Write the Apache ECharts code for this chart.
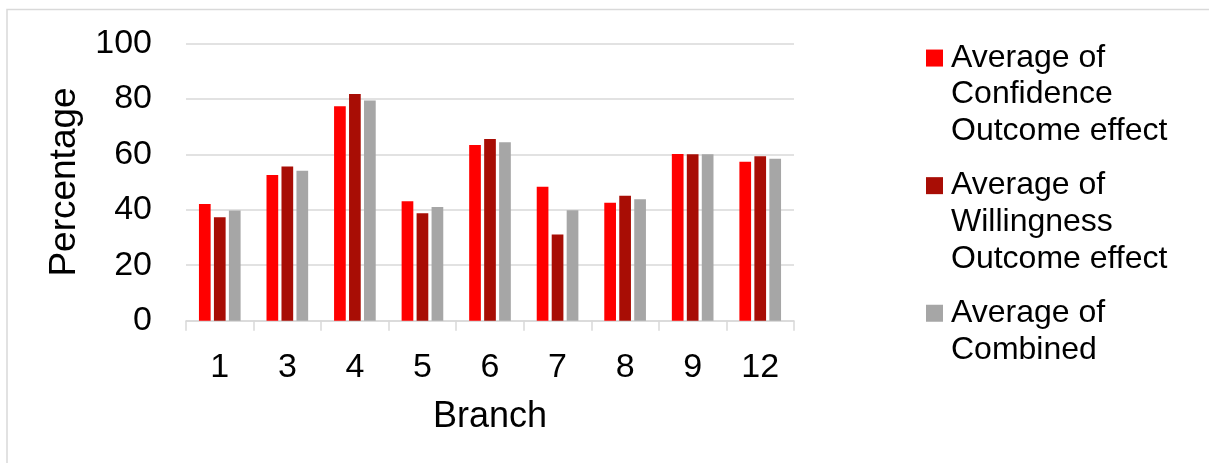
<!DOCTYPE html>
<html>
<head>
<meta charset="utf-8">
<title>Outcome effect by branch</title>
<script src="https://cdn.jsdelivr.net/npm/echarts@6/dist/echarts.min.js"></script>
<style>
  html, body { margin: 0; padding: 0; background: #ffffff; }
  #chart { width: 1209px; height: 463px; }
</style>
</head>
<body>
<div id="chart"></div>
<script>
// Branch categories along the x axis
const branches = ['1', '3', '4', '5', '6', '7', '8', '9', '12'];

// Average outcome effect per branch (percent)
const confidence  = [42.1, 52.5, 77.3, 43.1, 63.3, 48.3, 42.5, 60.1, 57.3];
const willingness = [37.3, 55.6, 81.7, 38.7, 65.5, 31.1, 45.0, 60.0, 59.3];
const combined    = [39.7, 54.1, 79.4, 41.0, 64.3, 39.8, 43.8, 60.0, 58.4];

// Series names as shown in the legend
const seriesNames = [
  'Average of\nConfidence\nOutcome effect',
  'Average of\nWillingness\nOutcome effect',
  'Average of\nCombined\n '
];

// Percentage axis
const yMin = 0, yMax = 100, yStep = 20;

const FONT = '"Liberation Sans", Arial, sans-serif';
const GRID = '#d9d9d9';
const colors = ['#ff0000', '#a80d05', '#a6a6a6'];

// Legend marker: a small square sitting on the first text line of a three-line item
const legendIcon = 'path://M0,0M20,110M0,10h17v17h-17z';

const chart = echarts.init(document.getElementById('chart'), null, { renderer: 'canvas' });

function barSeries(name, data, color) {
  return {
    name: name,
    type: 'bar',
    data: data,
    barWidth: 11.7,
    barGap: '28%',
    itemStyle: { color: color },
    emphasis: { disabled: true }
  };
}

chart.setOption({
  animation: false,
  backgroundColor: '#ffffff',
  textStyle: { fontFamily: FONT },
  graphic: [{
    type: 'rect',
    shape: { x: 7, y: 9.5, width: 1215, height: 470 },
    style: { fill: 'none', stroke: GRID, lineWidth: 1.5 },
    silent: true
  }],
  grid: { left: 186, right: 415, top: 43.3, bottom: 142.3, containLabel: false },
  legend: {
    orient: 'vertical',
    left: 926,
    top: 39.5,
    padding: 0,
    itemGap: 17.5,
    itemWidth: 20,
    itemHeight: 110,
    icon: legendIcon,
    selectedMode: false,
    textStyle: { fontFamily: FONT, fontSize: 32, lineHeight: 36.7, color: '#000000' },
    data: seriesNames
  },
  xAxis: {
    type: 'category',
    data: branches,
    name: 'Branch',
    nameLocation: 'middle',
    nameGap: 78,
    nameTextStyle: { fontFamily: FONT, fontSize: 36, color: '#000000' },
    axisLine: { lineStyle: { color: GRID, width: 1.5 } },
    axisTick: { show: true, length: 10, lineStyle: { color: GRID, width: 1.5 } },
    axisLabel: { fontFamily: FONT, fontSize: 34, color: '#000000', margin: 30 }
  },
  yAxis: {
    type: 'value',
    min: yMin,
    max: yMax,
    interval: yStep,
    name: 'Percentage',
    nameLocation: 'middle',
    nameGap: 103,
    nameTextStyle: { fontFamily: FONT, fontSize: 37, color: '#000000' },
    axisLine: { show: false },
    axisTick: { show: false },
    axisLabel: { fontFamily: FONT, fontSize: 34, color: '#000000', margin: 34 },
    splitLine: { lineStyle: { color: GRID, width: 1.5 } }
  },
  series: [
    barSeries(seriesNames[0], confidence, colors[0]),
    barSeries(seriesNames[1], willingness, colors[1]),
    barSeries(seriesNames[2], combined, colors[2])
  ]
});
</script>
</body>
</html>
